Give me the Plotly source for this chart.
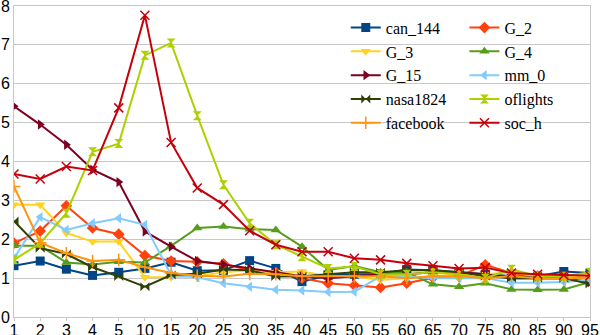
import plotly.graph_objects as go

# x categories (sample sizes) and y values per graph
categories = ["1", "2", "3", "4", "5", "10", "15", "20", "25", "30", "35", "40",
              "45", "50", "55", "60", "65", "70", "75", "80", "85", "90", "95"]

can_144 = [1.32, 1.44, 1.23, 1.07, 1.15, 1.25, 1.41, 1.19, 1.20, 1.45, 1.25, 0.91,
           1.07, 1.10, 1.10, 1.22, 1.20, 1.15, 1.10, 1.05, 1.05, 1.17, 1.13]
g_2 = [1.90, 2.21, 2.86, 2.29, 2.13, 1.58, 1.44, 1.42, 1.37, 1.20, 1.15, 1.00,
       0.87, 0.81, 0.76, 0.87, 1.01, 1.05, 1.34, 1.13, 1.05, 1.00, 1.00]
g_3 = [2.89, 2.89, 2.16, 1.94, 1.94, 1.02, 1.02, 1.05, 1.15, 1.20, 1.15, 1.17,
       1.05, 1.05, 0.95, 1.00, 1.05, 1.10, 1.10, 1.15, 1.05, 1.00, 1.10]
g_4 = [1.83, 1.83, 1.40, 1.35, 1.42, 1.40, 1.83, 2.29, 2.33, 2.26, 2.24, 1.81,
       1.21, 1.31, 1.15, 1.15, 0.84, 0.78, 0.87, 0.71, 0.70, 0.71, 0.90]
g_15 = [5.42, 4.95, 4.43, 3.79, 3.47, 2.20, 1.81, 1.44, 1.35, 1.25, 1.15, 1.05,
        1.00, 1.05, 1.10, 1.10, 1.15, 1.15, 1.10, 1.00, 1.00, 1.00, 0.90]
mm_0 = [1.51, 2.57, 2.24, 2.41, 2.54, 2.37, 1.08, 1.02, 0.87, 0.78, 0.70, 0.68,
        0.64, 0.65, 1.05, 1.05, 1.00, 1.00, 1.00, 0.88, 0.88, 0.90, 0.95]
nasa1824 = [2.47, 1.77, 1.62, 1.28, 1.04, 0.78, 1.08, 1.11, 1.22, 1.20, 1.04, 1.05,
            1.10, 1.15, 1.15, 1.20, 1.20, 1.15, 1.05, 1.00, 1.00, 1.00, 0.85]
oflights = [1.47, 1.90, 2.67, 4.25, 4.46, 6.73, 7.05, 5.18, 3.40, 2.41, 1.86, 1.55,
            1.25, 1.30, 1.10, 1.10, 1.15, 1.10, 1.00, 1.23, 1.05, 1.05, 1.15]
facebook = [3.36, 1.91, 1.64, 1.44, 1.47, 1.28, 1.13, 1.06, 1.04, 1.11, 1.10, 1.05,
            1.05, 1.05, 1.05, 1.00, 1.05, 1.05, 1.00, 1.05, 1.00, 1.00, 1.00]
soc_h = [3.68, 3.55, 3.87, 3.77, 5.38, 7.76, 4.49, 3.32, 2.89, 2.22, 1.86, 1.68,
         1.68, 1.51, 1.47, 1.38, 1.32, 1.25, 1.27, 1.13, 1.10, 1.08, 1.06]

# name, values, colour, marker symbol, legend column
series = [
    ("can_144", can_144, "#004586", "square", "legend"),
    ("G_2", g_2, "#ff420e", "diamond", "legend2"),
    ("G_3", g_3, "#ffd320", "triangle-down", "legend"),
    ("G_4", g_4, "#579d1c", "triangle-up", "legend2"),
    ("G_15", g_15, "#7e0021", "triangle-right", "legend"),
    ("mm_0", mm_0, "#83caff", "triangle-left", "legend2"),
    ("nasa1824", nasa1824, "#314004", "bowtie", "legend"),
    ("oflights", oflights, "#aecf00", "hourglass", "legend2"),
    ("facebook", facebook, "#ff950e", "cross-thin", "legend"),
    ("soc_h", soc_h, "#c5000b", "x-thin", "legend2"),
]

fig = go.Figure()
for name, vals, color, sym, leg in series:
    thin = sym.endswith("-thin")
    fig.add_trace(go.Scatter(
        x=categories, y=vals, name=name, mode="lines+markers", legend=leg,
        line=dict(color=color, width=2),
        marker=dict(symbol=sym, size=9, color=color,
                    line=dict(color=color, width=1.5 if thin else 0)),
    ))

grid = "#c8c8c8"
tick_font = dict(family="Liberation Sans, Arial, sans-serif", size=16, color="#000")
fig.update_xaxes(
    type="category", range=[0, len(categories) - 1], showgrid=False,
    showline=True, mirror=True, linecolor=grid, linewidth=1,
    ticks="outside", ticklen=3, tickcolor=grid, tickfont=tick_font,
    ticklabeloverflow="allow", ticklabelstandoff=-4, automargin=False,
)
fig.update_yaxes(
    range=[0, 8], dtick=1, showgrid=True, gridcolor=grid, gridwidth=1,
    showline=True, linecolor=grid, mirror=True, zeroline=False, ticks="",
    tickfont=tick_font, ticklabeloverflow="allow", automargin=False,
)

legend_style = dict(
    font=dict(family="Liberation Serif, Times New Roman, serif", size=16, color="#000"),
    bgcolor="rgba(0,0,0,0)", itemwidth=30, yanchor="top", xanchor="left",
    tracegroupgap=0,
)
fig.update_layout(
    width=600, height=335,
    margin=dict(l=14, r=10, t=6, b=18),
    paper_bgcolor="white", plot_bgcolor="white",
    legend=dict(x=0.576, y=0.985, **legend_style),
    legend2=dict(x=0.782, y=0.985, **legend_style),
)

# the page's default body margin would push the chart 8px down and right
fig.write_html("out.html", config={"displayModeBar": False},
               post_script="document.body.style.margin = '0';")
